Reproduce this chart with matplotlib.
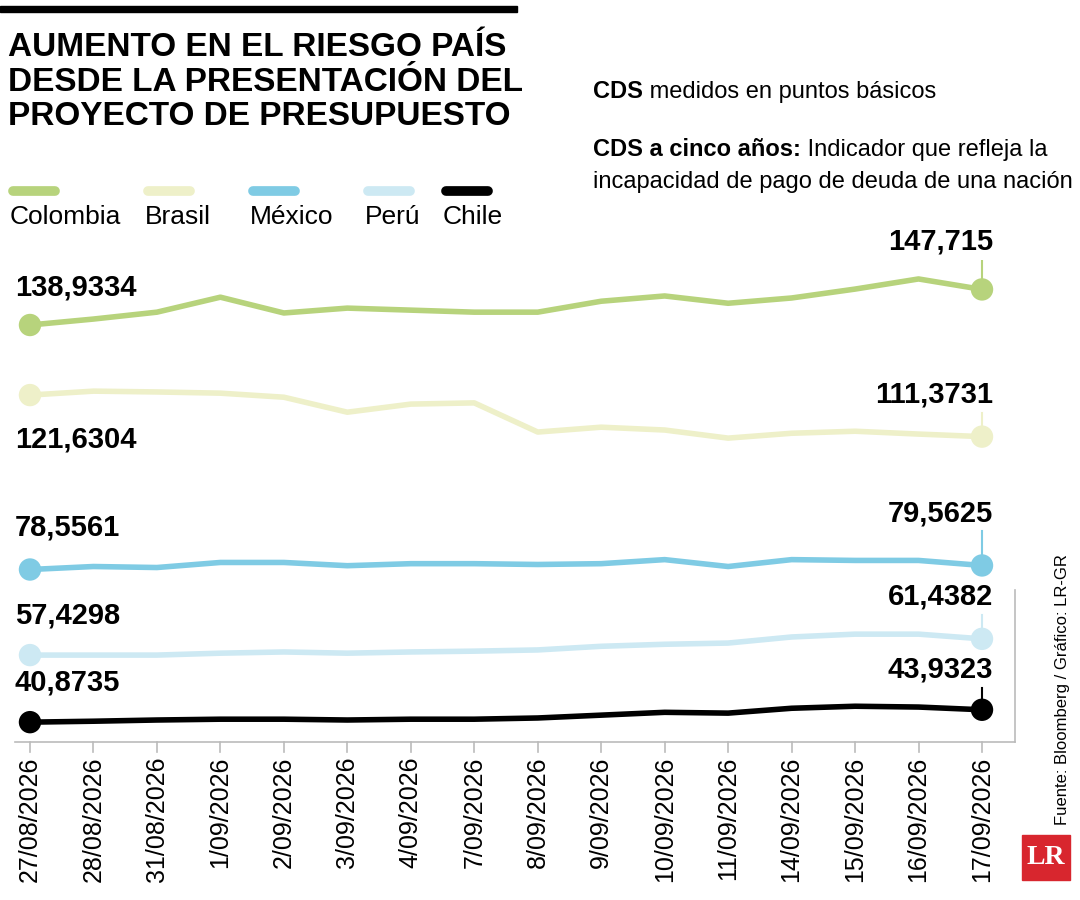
import matplotlib.pyplot as plt
from matplotlib.patches import Rectangle

plt.rcParams['font.family'] = ['Liberation Sans Narrow', 'Liberation Sans', 'DejaVu Sans']

dates = ['27/08/2026', '28/08/2026', '31/08/2026', '1/09/2026', '2/09/2026', '3/09/2026',
         '4/09/2026', '7/09/2026', '8/09/2026', '9/09/2026', '10/09/2026', '11/09/2026',
         '14/09/2026', '15/09/2026', '16/09/2026', '17/09/2026']
colombia = [138.93, 140.4, 142.1, 145.8, 141.9, 143.1, 142.6, 142.1, 142.1, 144.8, 146.1, 144.3, 145.6, 147.8, 150.3, 147.715]
brasil = [121.63, 122.6, 122.4, 122.1, 121.1, 117.4, 119.4, 119.7, 112.5, 113.7, 113.0, 111.0, 112.2, 112.7, 112.0, 111.37]
mexico = [78.56, 79.3, 79.05, 80.3, 80.3, 79.5, 80.0, 80.0, 79.8, 80.0, 81.0, 79.3, 81.0, 80.8, 80.8, 79.56]
peru = [57.43, 57.43, 57.43, 57.9, 58.2, 57.9, 58.2, 58.4, 58.7, 59.6, 60.1, 60.4, 61.9, 62.6, 62.6, 61.44]
chile = [40.87, 41.1, 41.4, 41.6, 41.6, 41.4, 41.6, 41.6, 41.9, 42.6, 43.3, 43.1, 44.3, 44.8, 44.6, 43.93]

names = ['Colombia', 'Brasil', 'México', 'Perú', 'Chile']
colors = ['#b7d37c', '#eef0c9', '#7fcbe4', '#cde9f3', '#000000']
series = [colombia, brasil, mexico, peru, chile]
start_lbl = ['138,9334', '121,6304', '78,5561', '57,4298', '40,8735']
end_lbl = ['147,715', '111,3731', '79,5625', '61,4382', '43,9323']
start_off = [38, -44, 42, 40, 40]   # pixel offsets of label centres
end_off = [48, 42, 52, 42, 40]

W, H = 1080, 900
fig = plt.figure(figsize=(W / 100, H / 100), dpi=100)

def fx(px): return px / W
def fy(py): return 1 - py / H

ax = fig.add_axes([fx(15), fy(742), fx(1000), (742 - 260) / H])
ax.set_xlim(-0.236, 15.52)
ax.set_ylim(35.97, 154.98)
ax.axis('off')
x = list(range(len(dates)))
for s, c, n in zip(series, colors, names):
    ax.plot(x, s, color=c, lw=4, solid_capstyle='round', zorder=2)
    ax.scatter([0, 15], [s[0], s[-1]], s=260, color=c, zorder=3, edgecolors='none')

ppu = 4.05  # pixels per unit
for s, c, sl, el, so, eo in zip(series, colors, start_lbl, end_lbl, start_off, end_off):
    ax.annotate(sl, (0, s[0]), xytext=(-11, so * 0.72), textcoords='offset points',
                fontsize=21, fontweight='bold', ha='left', va='center')
    ax.annotate(el, (15, s[-1]), xytext=(8, eo * 0.72), textcoords='offset points',
                fontsize=21, fontweight='bold', ha='right', va='center')
    ax.plot([15, 15], [s[-1], s[-1] + (eo - 18) / ppu], color=c, lw=1.5, zorder=1)

# axis lines and ticks
fig.add_artist(plt.Line2D([fx(15), fx(1015)], [fy(742), fy(742)], color='#bbbbbb', lw=1.2))
fig.add_artist(plt.Line2D([fx(1015), fx(1015)], [fy(742), fy(590)], color='#bbbbbb', lw=1.2))
for i, d in enumerate(dates):
    px = 30 + i * 952 / 15
    fig.add_artist(plt.Line2D([fx(px), fx(px)], [fy(742), fy(752)], color='#bbbbbb', lw=1.2))
    fig.text(fx(px), fy(757), d, rotation=90, ha='center', va='top', fontsize=18)

# title
fig.add_artist(Rectangle((0, fy(12)), fx(517), 6 / H, color='black'))
fig.text(fx(8), fy(32), 'AUMENTO EN EL RIESGO PAÍS\nDESDE LA PRESENTACIÓN DEL\nPROYECTO DE PRESUPUESTO',
         fontsize=24, fontweight='bold', va='top', ha='left', linespacing=1.15)

t1 = fig.text(fx(593), fy(92), 'CDS', fontsize=17, fontweight='bold', va='center')
fig.text(0, 0, ' medidos en puntos básicos', fontsize=17, va='center',
         transform=t1.get_transform()) if False else None
ax.annotate(' medidos en puntos básicos', xy=(1, 0.5), xycoords=t1, fontsize=17, va='center',
            ha='left', annotation_clip=False)
t2 = fig.text(fx(593), fy(150), 'CDS a cinco años:', fontsize=17, fontweight='bold', va='center')
ax.annotate(' Indicador que refleja la', xy=(1, 0.5), xycoords=t2, fontsize=17, va='center',
            ha='left', annotation_clip=False)
fig.text(fx(593), fy(182), 'incapacidad de pago de deuda de una nación', fontsize=17, va='center')

# legend
leg_x = [10, 145, 250, 365, 443]
for lx, c, n in zip(leg_x, colors, names):
    fig.add_artist(plt.Line2D([fx(lx + 3), fx(lx + 45)], [fy(191), fy(191)], color=c, lw=7, solid_capstyle='round'))
    fig.text(fx(lx), fy(217), n, fontsize=19, va='center', ha='left')

fig.text(fx(1063), fy(690), 'Fuente: Bloomberg / Gráfico: LR-GR', rotation=90, fontsize=12, ha='center', va='center')
fig.add_artist(Rectangle((fx(1022), fy(880)), 48 / W, 45 / H, color='#d8262e'))
fig.text(fx(1046), fy(857), 'LR', color='white', fontsize=20, fontweight='bold', ha='center', va='center',
         family='Liberation Serif')

fig.savefig('out.png', dpi=100, facecolor='white')
